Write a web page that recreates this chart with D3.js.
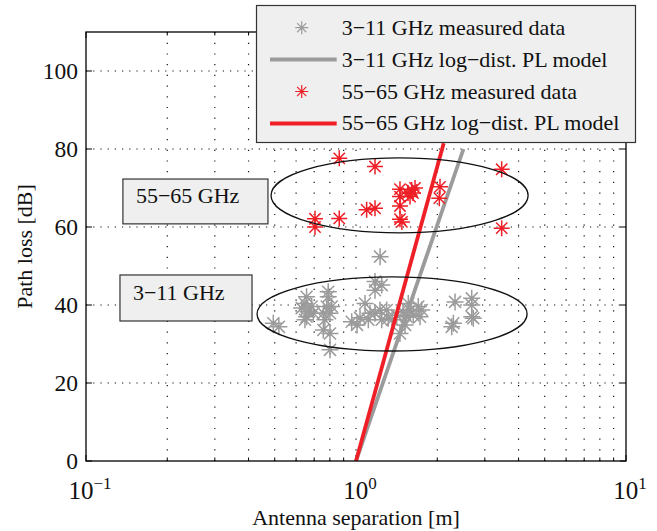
<!DOCTYPE html>
<html>
<head>
<meta charset="utf-8">
<script src="https://cdn.jsdelivr.net/npm/d3@7"></script>
<style>
  body { margin: 0; background: #fff; }
  svg { display: block; }
  svg text { font-family: "Liberation Serif", "Times New Roman", serif; }
</style>
</head>
<body>
<script>
// measured path loss, 3-11 GHz band (distance in m, loss in dB)
let uwbDistance = [0.494, 0.518, 0.656, 0.647, 0.629, 0.665, 0.656, 0.647, 0.695, 0.685,
  0.789, 0.789, 0.779, 0.813, 0.757, 0.801, 0.767, 0.757, 0.801, 0.801,
  0.964, 1.009, 1.08, 1.127, 1.111, 1.176, 1.176, 1.245, 1.176, 1.245,
  1.227, 1.299, 1.317, 1.415, 1.562, 1.585, 1.63, 1.701, 1.751, 1.726,
  1.541, 1.455, 2.327, 2.683, 2.683, 2.294, 2.262, 2.683, 2.719, 1.228,
  1.035, 1.36, 1.493, 1.519];
let uwbLoss = [35.3, 34.4, 42.1, 40.4, 39.2, 38.3, 37.0, 36.2, 37.9, 39.6,
  43.4, 42.1, 39.6, 39.6, 37.9, 37.9, 36.2, 33.6, 32.7, 28.5,
  35.7, 34.9, 40.4, 37.9, 36.2, 46.0, 43.8, 45.1, 37.9, 36.2,
  38.7, 38.7, 36.6, 37.4, 40.4, 38.7, 37.4, 39.6, 38.7, 37.0,
  37.0, 32.7, 40.8, 41.7, 40.0, 35.3, 34.4, 37.0, 36.6, 52.4,
  36.7, 36.2, 38.2, 34.9];

// measured path loss, 55-65 GHz band
let mmDistance = [0.705, 0.705, 0.867, 1.176, 0.867, 1.095, 1.176, 1.455, 1.455, 1.455,
  1.455, 1.479, 1.607, 1.585, 1.625, 1.654, 1.558, 2.047, 2.035, 3.464, 3.464];
let mmLoss = [62.1, 60.0, 77.6, 75.5, 62.2, 64.4, 64.8, 69.7, 67.8, 65.4,
  62.0, 61.3, 69.5, 67.8, 68.7, 70.0, 68.7, 70.3, 67.4, 74.8, 59.7];

// log-distance model end points
let uwbModelDistance = [1, 2.5];
let uwbModelLoss = [0, 80];
let mmModelDistance = [1, 2.113];
let mmModelLoss = [0, 81.5];

let xTickExponents = [-1, 0, 1];
let yTickValues = [0, 20, 40, 60, 80, 100];

let legendLabels = ["3\u221211 GHz measured data", "3\u221211 GHz log\u2212dist. PL model",
  "55\u221265 GHz measured data", "55\u221265 GHz log\u2212dist. PL model"];

// cluster annotations: ellipse centre, half width (decades), half height (dB)
let clusterLabels = ["55\u221265 GHz", "3\u221211 GHz"];
let clusterCentreDistance = [1.45, 1.36];
let clusterCentreLoss = [68.1, 37.7];
let clusterHalfDecades = [0.476, 0.5];
let clusterHalfLoss = [9.6, 9.5];
let labelBoxDistance = [[0.137, 0.472], [0.1336, 0.412]];
let labelBoxLoss = [[72.3, 60.8], [47.7, 35.9]];

let grey = '#9b9b9b';
let red = '#ee1f26';
let width = 657, height = 531;
let bounds = { left: 86, right: 626, top: 32, bottom: 461 };
let serif = '"Liberation Serif", "Times New Roman", serif';

let svg = d3.select('body').append('svg')
  .attr('width', width)
  .attr('height', height);

let xScale = d3.scaleLog().domain([0.1, 10]).range([bounds.left, bounds.right]);
let yScale = d3.scaleLinear().domain([0, 110]).range([bounds.bottom, bounds.top]);

svg.append('defs').append('clipPath').attr('id', 'plotClip')
  .append('rect')
  .attr('x', bounds.left).attr('y', bounds.top)
  .attr('width', bounds.right - bounds.left)
  .attr('height', bounds.bottom - bounds.top);

// grid
let gridG = svg.append('g').attr('class', 'grid')
  .attr('stroke', '#111').attr('stroke-width', 1.2);
gridG.selectAll('.vgrid')
  .data(xScale.ticks().filter(d => d > 0.1 && d < 10))
  .enter().append('line')
  .attr('x1', d => xScale(d)).attr('x2', d => xScale(d))
  .attr('y1', bounds.top).attr('y2', bounds.bottom)
  .attr('stroke-dasharray', '1.2,9.5');
gridG.selectAll('.hgrid')
  .data(yTickValues.filter(d => d > 0))
  .enter().append('line')
  .attr('x1', bounds.left).attr('x2', bounds.right)
  .attr('y1', d => yScale(d)).attr('y2', d => yScale(d))
  .attr('stroke-dasharray', '1.2,6');

// ticks inside the box
let tickG = svg.append('g').attr('stroke', '#000').attr('stroke-width', 1);
xScale.ticks().forEach(d => {
  let major = Math.abs(Math.log10(d) - Math.round(Math.log10(d))) < 1e-6;
  let len = major ? 6 : 3.5;
  tickG.append('line').attr('x1', xScale(d)).attr('x2', xScale(d))
    .attr('y1', bounds.bottom).attr('y2', bounds.bottom - len);
  tickG.append('line').attr('x1', xScale(d)).attr('x2', xScale(d))
    .attr('y1', bounds.top).attr('y2', bounds.top + len);
});
yTickValues.forEach(d => {
  tickG.append('line').attr('x1', bounds.left).attr('x2', bounds.left + 6)
    .attr('y1', yScale(d)).attr('y2', yScale(d));
  tickG.append('line').attr('x1', bounds.right).attr('x2', bounds.right - 6)
    .attr('y1', yScale(d)).attr('y2', yScale(d));
});

let starPath = function(r) {
  let a = r * 0.707;
  return 'M' + (-r) + ',0L' + r + ',0M0,' + (-r) + 'L0,' + r +
    'M' + (-a) + ',' + (-a) + 'L' + a + ',' + a + 'M' + (-a) + ',' + a + 'L' + a + ',' + (-a);
};

let lineSpec = d3.line()
  .x(d => xScale(d[0]))
  .y(d => yScale(d[1]));

let plotG = svg.append('g').attr('clip-path', 'url(#plotClip)');

let drawStars = function(dists, losses, colour, r) {
  plotG.append('g').selectAll('path')
    .data(d3.zip(dists, losses))
    .enter().append('path')
    .attr('transform', d => 'translate(' + xScale(d[0]) + ',' + yScale(d[1]) + ')')
    .attr('d', starPath(r))
    .attr('fill', 'none')
    .attr('stroke', colour)
    .attr('stroke-width', 1.5);
};
let drawModel = function(dists, losses, colour) {
  plotG.append('path')
    .datum(d3.zip(dists, losses))
    .attr('d', lineSpec)
    .attr('fill', 'none')
    .attr('stroke', colour)
    .attr('stroke-width', 3.8);
};

drawStars(uwbDistance, uwbLoss, grey, 8.5);
drawModel(uwbModelDistance, uwbModelLoss, grey);
drawStars(mmDistance, mmLoss, red, 8);
drawModel(mmModelDistance, mmModelLoss, red);

// box
svg.append('rect')
  .attr('x', bounds.left).attr('y', bounds.top)
  .attr('width', bounds.right - bounds.left)
  .attr('height', bounds.bottom - bounds.top)
  .attr('fill', 'none').attr('stroke', '#000').attr('stroke-width', 1.3);

// cluster ellipses and labels
clusterLabels.forEach((label, i) => {
  let cx = xScale(clusterCentreDistance[i]);
  let rx = xScale(clusterCentreDistance[i] * Math.pow(10, clusterHalfDecades[i])) - cx;
  let cy = yScale(clusterCentreLoss[i]);
  let ry = cy - yScale(clusterCentreLoss[i] + clusterHalfLoss[i]);
  svg.append('ellipse')
    .attr('cx', cx).attr('cy', cy).attr('rx', rx).attr('ry', ry)
    .attr('fill', 'none').attr('stroke', '#111').attr('stroke-width', 1.3);

  let x0 = xScale(labelBoxDistance[i][0]), x1 = xScale(labelBoxDistance[i][1]);
  let y0 = yScale(labelBoxLoss[i][0]), y1 = yScale(labelBoxLoss[i][1]);
  svg.append('rect')
    .attr('x', x0).attr('y', y0).attr('width', x1 - x0).attr('height', y1 - y0)
    .attr('fill', '#eeefee').attr('stroke', '#333').attr('stroke-width', 1.2);
  svg.append('text')
    .attr('x', x0 + 13).attr('y', (y0 + y1) / 2 + 2)
    .attr('font-family', serif)
    .attr('font-size', 22).attr('fill', '#111')
    .text(label);
});

// axis labels
let xLabelG = svg.append('g').attr('fill', '#111');
xTickExponents.forEach(e => {
  let t = xLabelG.append('text')
    .attr('x', xScale(Math.pow(10, e)) + 4)
    .attr('y', 499)
    .attr('text-anchor', 'middle')
    .attr('font-family', serif)
    .attr('font-size', 25);
  t.append('tspan').text('10');
  t.append('tspan').attr('dy', -10).attr('font-size', 17)
    .text(e < 0 ? '\u2212' + Math.abs(e) : String(e));
});
svg.append('g').attr('fill', '#111').selectAll('text')
  .data(yTickValues)
  .enter().append('text')
  .attr('x', 78).attr('y', d => yScale(d) + 8)
  .attr('text-anchor', 'end')
  .attr('font-family', serif)
  .attr('font-size', 23.5)
  .text(d => d);

svg.append('text')
  .attr('x', (bounds.left + bounds.right) / 2).attr('y', 525)
  .attr('text-anchor', 'middle').attr('font-size', 22).attr('fill', '#111')
  .attr('font-family', serif)
  .text('Antenna separation [m]');
svg.append('text')
  .attr('transform', 'translate(32,' + ((bounds.top + bounds.bottom) / 2) + ') rotate(-90)')
  .attr('text-anchor', 'middle').attr('font-size', 22).attr('fill', '#111')
  .attr('font-family', serif)
  .text('Path loss [dB]');

// legend
let legendG = svg.append('g').attr('class', 'legend');
legendG.append('rect')
  .attr('x', 256.5).attr('y', 5.5).attr('width', 379).attr('height', 137)
  .attr('fill', '#eeefee').attr('stroke', '#333').attr('stroke-width', 1.2);
let legendStyles = [
  { kind: 'star', colour: grey }, { kind: 'line', colour: grey },
  { kind: 'star', colour: red }, { kind: 'line', colour: red },
];
legendLabels.forEach((label, i) => {
  let cy = 27.7 + i * 31.9;
  let s = legendStyles[i];
  if (s.kind === 'star') {
    legendG.append('path')
      .attr('transform', 'translate(301.7,' + cy + ')')
      .attr('d', starPath(6.5))
      .attr('fill', 'none').attr('stroke', s.colour).attr('stroke-width', 1.2);
  } else {
    legendG.append('line')
      .attr('x1', 270).attr('x2', 336.7).attr('y1', cy).attr('y2', cy)
      .attr('stroke', s.colour).attr('stroke-width', 4);
  }
  legendG.append('text')
    .attr('x', 341.7).attr('y', cy + 7)
    .attr('font-family', serif)
    .attr('font-size', 22).attr('fill', '#111')
    .text(label);
});
</script>
</body>
</html>
